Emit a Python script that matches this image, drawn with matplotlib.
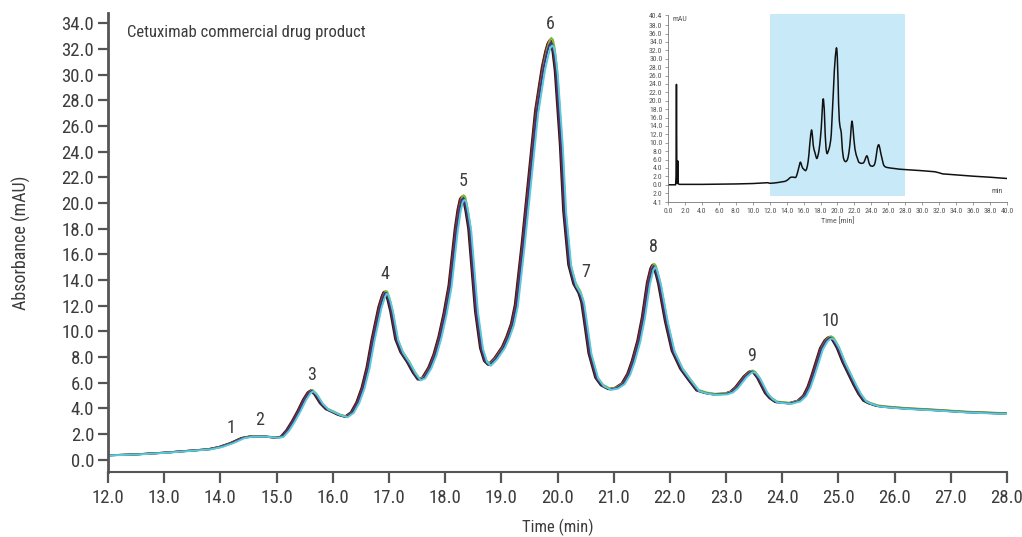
import numpy as np
import matplotlib
matplotlib.use('Agg')
import matplotlib.pyplot as plt
import matplotlib.patches as patches
from matplotlib import font_manager

# 优先使用窄体字体
installed = {f.name for f in font_manager.fontManager.ttflist}
narrow = [f.name for f in font_manager.fontManager.ttflist
          if f.stretch in ('condensed', 'semi-condensed', 'extra-condensed')
          or 'Narrow' in f.name or 'Condensed' in f.name]
candidates = ['Liberation Sans Narrow', 'Roboto Condensed', 'DejaVu Sans Condensed',
              'Open Sans Condensed'] + sorted(set(narrow))
FONT = next((c for c in candidates if c in installed), None)
NARROW = FONT is not None
if FONT is None:
    FONT = 'Liberation Sans'
plt.rcParams['font.family'] = [FONT, 'DejaVu Sans']
if 'DejaVu' in FONT and 'Condensed' in FONT:
    plt.rcParams['font.stretch'] = 'condensed'
fs = 1.0 if NARROW else 0.88

# 主图色谱（12–28 min）
time_min = [12.0, 12.5, 13.0, 13.5, 13.8, 14.0, 14.2, 14.4, 14.55, 14.8,
            15.0, 15.1, 15.2, 15.3, 15.4, 15.5, 15.58, 15.63, 15.7, 15.8,
            15.9, 16.0, 16.12, 16.24, 16.35, 16.45, 16.54, 16.63, 16.72, 16.84,
            16.9, 16.93, 16.96, 17.0, 17.05, 17.14, 17.23, 17.35, 17.45, 17.54, 17.62,
            17.73, 17.82, 17.91, 18.0, 18.09, 18.2, 18.25, 18.29, 18.32, 18.35, 18.39, 18.44,
            18.5, 18.56, 18.65, 18.72, 18.79, 18.9, 19.04, 19.12, 19.2, 19.27,
            19.39, 19.51, 19.63, 19.75, 19.81, 19.85, 19.88, 19.91, 19.94, 19.98, 20.07, 20.13,
            20.22, 20.31, 20.4, 20.45, 20.49, 20.58, 20.7, 20.8, 20.93, 21.05,
            21.17, 21.27, 21.35, 21.45, 21.53, 21.62, 21.68, 21.71, 21.74, 21.78, 21.82, 21.94,
            22.06, 22.21, 22.36, 22.5, 22.65, 22.8, 23.0, 23.1, 23.19, 23.34,
            23.43, 23.47, 23.51, 23.58, 23.65, 23.72, 23.8, 23.9, 24.14, 24.3, 24.4, 24.48,
            24.55, 24.7, 24.78, 24.83, 24.86, 24.9, 24.95, 25.0, 25.1, 25.2, 25.3, 25.38,
            25.47, 25.56, 25.7, 25.86, 26.2, 26.63, 27.0, 27.28, 27.6, 28.0]
absorbance = [0.35, 0.42, 0.55, 0.72, 0.82, 1.0, 1.3, 1.7, 1.82, 1.82,
              1.72, 1.8, 2.3, 3.0, 3.8, 4.7, 5.25, 5.4, 5.1, 4.4,
              3.95, 3.75, 3.5, 3.35, 3.7, 4.5, 5.6, 7.2, 9.4, 11.9,
              12.75, 13.05, 13.0, 12.5, 11.6, 9.4, 8.4, 7.6, 6.8, 6.25, 6.4,
              7.2, 8.2, 9.6, 11.4, 13.6, 18.0, 19.5, 20.3, 20.45, 20.3, 19.4, 18.0,
              14.8, 11.6, 8.7, 7.7, 7.4, 7.9, 8.8, 9.6, 10.6, 12.1,
              16.8, 22.0, 27.2, 30.6, 31.8, 32.4, 32.6, 32.45, 31.8, 30.3, 24.6, 19.4,
              15.2, 13.7, 13.0, 12.3, 11.1, 8.3, 6.4, 5.8, 5.5, 5.6,
              5.95, 6.7, 7.7, 9.3, 11.1, 13.8, 14.9, 15.15, 15.0, 14.4, 13.7, 10.8,
              8.5, 7.1, 6.2, 5.4, 5.2, 5.1, 5.15, 5.3, 5.65, 6.5,
              6.85, 6.9, 6.8, 6.4, 5.8, 5.2, 4.8, 4.5, 4.4, 4.6, 5.0, 5.7,
              6.6, 8.7, 9.3, 9.5, 9.55, 9.45, 9.1, 8.7, 7.6, 6.7, 5.8, 5.15,
              4.6, 4.4, 4.2, 4.12, 4.0, 3.9, 3.8, 3.72, 3.67, 3.6]

# 五次进样的颜色及保留时间/响应的微小偏差
run_colors = ['#1c1c1c', '#8e1f1f', '#7cb83e', '#3b3583', '#5cc9d9']
run_shift = [-0.030, -0.015, 0.010, 0.000, 0.025]
run_scale = [1.000, 1.004, 1.008, 0.996, 0.990]

# 峰编号及标注位置
peak_names = ['1', '2', '3', '4', '5', '6', '7', '8', '9', '10']
label_t = [14.19, 14.69, 15.63, 16.93, 18.32, 19.88, 20.50, 21.70, 23.46, 24.85]
label_a = [2.45, 3.07, 6.60, 14.50, 21.75, 33.95, 14.60, 16.60, 8.10, 10.85]

# 小图：全程色谱（0–40 min）
pre_t = [0.0, 0.9, 0.95, 1.0, 1.05, 1.1, 1.15, 1.2, 1.25, 1.35, 2.0, 4.0, 6.0, 8.0, 10.0, 11.0, 11.8]
pre_a = [0.0, 0.0, 2.0, 23.9, 0.8, 0.3, 5.7, 0.4, 0.2, 0.1, 0.1, 0.1, 0.15, 0.2, 0.3, 0.4, 0.5]
post_t = [28.5, 30.0, 31.5, 32.0, 32.4, 34.0, 36.0, 38.0, 40.0]
post_a = [3.55, 3.35, 3.1, 2.85, 2.6, 2.35, 2.05, 1.8, 1.5]

gray = '#555555'
text_gray = '#3c3c3c'

fig = plt.figure(figsize=(10.22, 5.37), dpi=100)
ax = fig.add_axes([0.1057, 0.1210, 0.8796, 0.8548])

t = np.array(time_min)
a = np.array(absorbance)
for color, dt, k in zip(run_colors, run_shift, run_scale):
    ax.plot(t + dt, a * k, color=color, lw=1.4, solid_capstyle='round',
            solid_joinstyle='round')

for name, x, y in zip(peak_names, label_t, label_a):
    ax.text(x, y, name, ha='center', va='center', fontsize=13 * fs, color=text_gray)

ax.text(12.33, 33.3, 'Cetuximab commercial drug product', fontsize=12 * fs,
        color=text_gray, ha='left', va='center')

ax.set_xlim(12, 28)
ax.set_ylim(-0.95, 34.8)
ax.set_xticks(np.arange(12, 28.1, 1))
ax.set_xticklabels([f'{v:.1f}' for v in np.arange(12, 28.1, 1)])
ax.set_yticks(np.arange(0, 34.1, 2))
ax.set_yticklabels([f'{v:.1f}' for v in np.arange(0, 34.1, 2)])
for side in ['top', 'right']:
    ax.spines[side].set_visible(False)
ax.spines['left'].set_linewidth(2.0)
ax.spines['left'].set_color(gray)
ax.spines['bottom'].set_linewidth(1.5)
ax.spines['bottom'].set_color(gray)
ax.tick_params(axis='y', direction='out', length=7, width=1.6, color=gray,
               labelsize=13.5 * fs, labelcolor=text_gray, pad=3)
ax.tick_params(axis='x', direction='out', length=8, width=1.6, color=gray,
               labelsize=13.5 * fs, labelcolor=text_gray, pad=4)
ax.set_xlabel('Time (min)', fontsize=12 * fs, color=text_gray, labelpad=9)
ax.set_ylabel('Absorbance (mAU)', fontsize=13 * fs, color=text_gray, labelpad=22)

# 小图
ins = fig.add_axes([0.6536, 0.6238, 0.3317, 0.3482])
ins.add_patch(patches.Rectangle((12, -2.6), 16, 43.2, facecolor='#c8e9f8',
                                edgecolor='none', clip_on=False, zorder=0))
full_t = np.concatenate([pre_t, t, post_t])
full_a = np.concatenate([pre_a, a, post_a])
ins.plot(full_t, full_a, color='#111111', lw=1.1, zorder=2)
ins.set_xlim(0, 40)
ins.set_ylim(-4.1, 40.4)
ins.patch.set_alpha(0)
ins.set_xticks(np.arange(0, 40.1, 2))
ins.set_xticklabels([f'{v:.1f}' for v in np.arange(0, 40.1, 2)])
ins_yt = [-4.1, -2.0] + list(np.arange(0, 38.1, 2)) + [40.4]
ins.set_yticks(ins_yt)
ins.set_yticklabels([f'{abs(v):.1f}' for v in ins_yt])
for side in ['top', 'right']:
    ins.spines[side].set_visible(False)
for side in ['left', 'bottom']:
    ins.spines[side].set_linewidth(0.6)
    ins.spines[side].set_color('#777777')
ins.tick_params(direction='out', length=2.5, width=0.5, color='#777777',
                labelsize=5.6 * fs, labelcolor='#555555', pad=1.5)
ins.set_xlabel('Time [min]', fontsize=5.8 * fs, color='#555555', labelpad=2)
ins.text(0.5, 40.2, 'mAU', fontsize=5.6 * fs, color='#555555', ha='left', va='top')
ins.text(39.5, -1.5, 'min', fontsize=5.6 * fs, color='#555555', ha='right', va='center')

fig.savefig('out.png', dpi=100)
